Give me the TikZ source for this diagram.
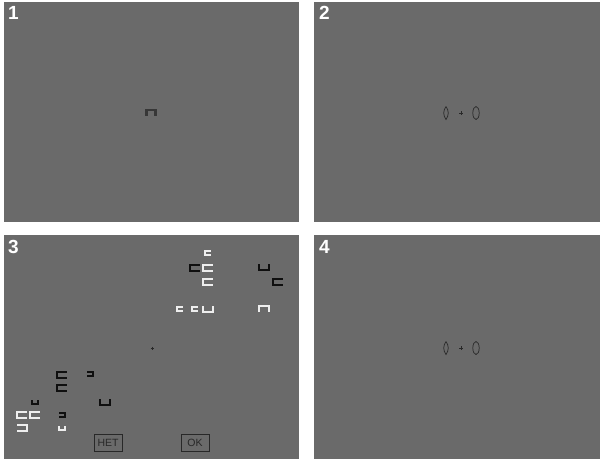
\documentclass[tikz,border=0pt]{standalone}
\usepackage{fontspec}
\setmainfont{Liberation Sans}
\usetikzlibrary{positioning}
\definecolor{PanelGray}{RGB}{106,106,106}
\definecolor{InkDark}{RGB}{40,40,40}
\definecolor{InkSoft}{RGB}{55,55,55}
\definecolor{RingWhite}{RGB}{238,238,238}
\definecolor{RingBlack}{RGB}{15,15,15}

\tikzset{
	panel/.style={fill=PanelGray, draw=none},
	panelnum/.style={text=white, font=\fontsize{19}{19}\selectfont\bfseries, anchor=north west, inner sep=0pt},
	button/.style={draw=InkDark, line width=1pt, minimum width=28pt, minimum height=17pt, inner sep=0pt, text=InkDark, font=\fontsize{10.5}{10.5}\selectfont},
	ring/.style={line width=2.5pt, line join=miter},
	smallring/.style={line width=1.8pt, line join=miter},
	symb/.style={draw=InkDark, line width=0.7pt},
}

% gapped square: x, y, half width, half height, opening (0 right, 1 up, 2 left, 3 down)
\newcommand{\gapsq}[6][ring]{%
	\ifcase#6
		\draw[#1] (#2+#4,#3-#5) -- (#2-#4,#3-#5) -- (#2-#4,#3+#5) -- (#2+#4,#3+#5);
	\or
		\draw[#1] (#2-#4,#3-#5) -- (#2-#4,#3+#5) -- (#2+#4,#3+#5) -- (#2+#4,#3-#5);
	\or
		\draw[#1] (#2-#4,#3-#5) -- (#2+#4,#3-#5) -- (#2+#4,#3+#5) -- (#2-#4,#3+#5);
	\or
		\draw[#1] (#2-#4,#3+#5) -- (#2-#4,#3-#5) -- (#2+#4,#3-#5) -- (#2+#4,#3+#5);
	\fi}

\begin{document}
\begin{tikzpicture}[x=1pt, y=-1pt]
		\useasboundingbox (0,0) rectangle (600,459);
		\fill[white] (0,0) rectangle (600,459);
		% four panels
		\fill[panel] (4,2) rectangle (299,222);
		\fill[panel] (314,2) rectangle (600,222);
		\fill[panel] (4,235) rectangle (299,459);
		\fill[panel] (314,235) rectangle (600,459);
		\node[panelnum] (num1) at (8,6) {1};
		\node[panelnum] (num2) at (319,6) {2};
		\node[panelnum] (num3) at (8,240) {3};
		\node[panelnum] (num4) at (319,240) {4};
		
		% panel 1: single cue
		\gapsq[ring, draw=InkSoft]{151}{113}{4.6}{2.9}{3}
		
		% panels 2 and 4: lens + zero around fixation
		\foreach \cy in {113,348} {
			\draw[symb] (446,\cy-6.5) .. controls (449,\cy-2.5) and (449,\cy+2.5) .. (446,\cy+6.5)
				.. controls (443,\cy+2.5) and (443,\cy-2.5) .. (446,\cy-6.5);
			\draw[symb, line width=0.6pt] (461,\cy-1.8) -- (461,\cy+1.8) (459.2,\cy) -- (462.8,\cy);
			\draw[symb] (476,\cy) ellipse [x radius=3.2, y radius=6.5];
		}
		
		% panel 3: search display, big items
		\foreach \x/\y/\c/\r in {
			195/268/RingBlack/0,
			208/268/RingWhite/0,
			264/267/RingBlack/1,
			208/282/RingWhite/0,
			278/282/RingBlack/0,
			208/309/RingWhite/1,
			264/309/RingWhite/3,
			62/375/RingBlack/0,
			62/388/RingBlack/0,
			105/402/RingBlack/1,
			22/415/RingWhite/0,
			35/415/RingWhite/0,
			22/428/RingWhite/2} {
			\gapsq[ring, draw=\c]{\x}{\y}{4.8}{3}{\r}
		}
		% panel 3: small items
		\foreach \x/\y/\c/\r in {
			208/253/RingWhite/0,
			180/309/RingWhite/0,
			195/309/RingWhite/0,
			90/374/RingBlack/2,
			35/402/RingBlack/1,
			62/415/RingBlack/2,
			62/428/RingWhite/1} {
			\gapsq[smallring, draw=\c]{\x}{\y}{2.8}{1.8}{\r}
		}
		\draw[symb, line width=0.6pt] (152,346.5) -- (152,349.5) (150.5,348) -- (153.5,348);
		
		\node[button] (btnno) at (108,443) {НЕТ};
		\node[button] (btnok) at (195,443) {OK};
	\end{tikzpicture}
\end{document}
